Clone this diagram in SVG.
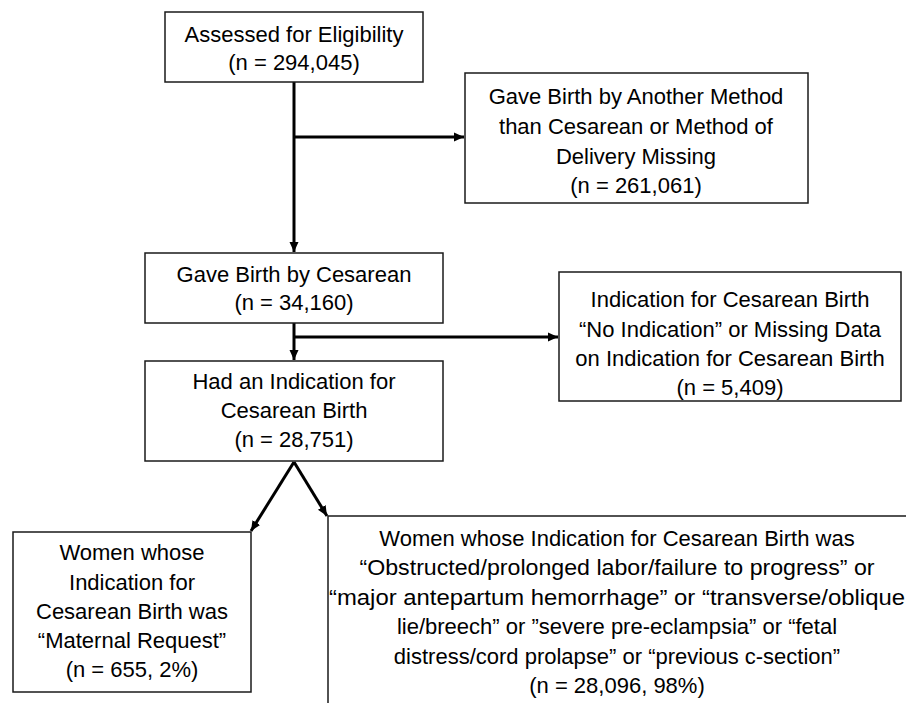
<svg xmlns="http://www.w3.org/2000/svg" width="906" height="703" viewBox="0 0 906 703">
<style>
.box{fill:#fff;stroke:#1a1a1a;stroke-width:1.5}
.t{font-family:"Liberation Sans",Arial,sans-serif;font-size:22px;fill:#000;text-anchor:middle}
.c{fill:none;stroke:#000;stroke-width:3}
</style>
<defs>
<marker id="ah" markerUnits="userSpaceOnUse" markerWidth="12" markerHeight="12" refX="10" refY="6" orient="auto">
<path d="M0,1.5 L10,6 L0,10.5 Z" fill="#000"/>
</marker>
</defs>
<rect width="906" height="703" fill="#fff"/>
<g id="connectors">
<line class="c" x1="294" y1="82" x2="294" y2="252" marker-end="url(#ah)"/>
<line class="c" x1="294" y1="137" x2="464" y2="137" marker-end="url(#ah)"/>
<line class="c" x1="294" y1="323" x2="294" y2="360" marker-end="url(#ah)"/>
<line class="c" x1="294" y1="337" x2="558" y2="337" marker-end="url(#ah)"/>
<line class="c" x1="294" y1="462" x2="251" y2="531" marker-end="url(#ah)"/>
<line class="c" x1="294" y1="462" x2="327" y2="516" marker-end="url(#ah)"/>
</g>
<g id="assessed">
<rect class="box" x="165" y="12" width="258" height="70"/>
<text class="t" x="294" y="42">Assessed for Eligibility</text>
<text class="t" x="294" y="70">(n = 294,045)</text>
</g>
<g id="other-method">
<rect class="box" x="465" y="73" width="343" height="130"/>
<text class="t" x="636" y="104">Gave Birth by Another Method</text>
<text class="t" x="636" y="134">than Cesarean or Method of</text>
<text class="t" x="636" y="164">Delivery Missing</text>
<text class="t" x="636" y="193">(n = 261,061)</text>
</g>
<g id="cesarean">
<rect class="box" x="145" y="253" width="298" height="70"/>
<text class="t" x="294" y="282">Gave Birth by Cesarean</text>
<text class="t" x="294" y="310">(n = 34,160)</text>
</g>
<g id="no-indication">
<rect class="box" x="559" y="272" width="342" height="129"/>
<text class="t" x="730" y="307">Indication for Cesarean Birth</text>
<text class="t" x="730" y="337">“No Indication” or Missing Data</text>
<text class="t" x="730" y="366">on Indication for Cesarean Birth</text>
<text class="t" x="730" y="395">(n = 5,409)</text>
</g>
<g id="had-indication">
<rect class="box" x="145" y="361" width="298" height="100"/>
<text class="t" x="294" y="389">Had an Indication for</text>
<text class="t" x="294" y="418">Cesarean Birth</text>
<text class="t" x="294" y="447">(n = 28,751)</text>
</g>
<g id="maternal-request">
<rect class="box" x="13" y="532" width="238" height="160"/>
<text class="t" x="132" y="560">Women whose</text>
<text class="t" x="132" y="590">Indication for</text>
<text class="t" x="132" y="619">Cesarean Birth was</text>
<text class="t" x="132" y="648">“Maternal Request”</text>
<text class="t" x="132" y="677">(n = 655, 2%)</text>
</g>
<g id="other-indications">
<rect class="box" x="328" y="516" width="620" height="220"/>
<text class="t" x="617" y="546">Women whose Indication for Cesarean Birth was</text>
<text class="t" x="617" y="575" textLength="515" lengthAdjust="spacingAndGlyphs">“Obstructed/prolonged labor/failure to progress” or</text>
<text class="t" x="617" y="605" textLength="576" lengthAdjust="spacingAndGlyphs">“major antepartum hemorrhage” or “transverse/oblique</text>
<text class="t" x="617" y="634">lie/breech” or ”severe pre-eclampsia” or “fetal</text>
<text class="t" x="617" y="664">distress/cord prolapse” or “previous c-section”</text>
<text class="t" x="617" y="693">(n = 28,096, 98%)</text>
</g>
</svg>
